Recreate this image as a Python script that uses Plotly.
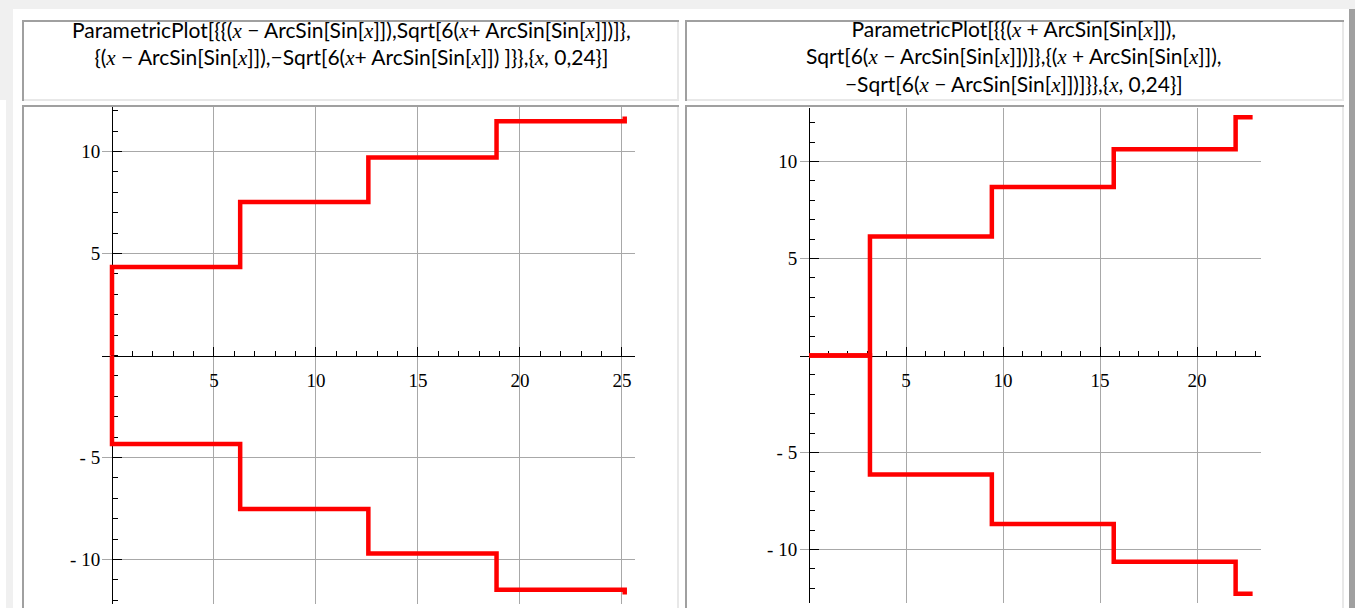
import plotly.graph_objects as go

W, H = 1355, 608

# ---- data: corner points of the two parametric staircase curves ----
# Plot A: {x - ArcSin[Sin[x]], +/- Sqrt[6(x + ArcSin[Sin[x]])]}, x in [0, 24]
a_x = [0.0, 0.0, 6.283, 6.283, 12.566, 12.566, 18.850, 18.850, 25.133, 25.133]
a_y_upper = [0.0, 4.342, 4.342, 7.520, 7.520, 9.708, 9.708, 11.487, 11.487, 11.713]
a_y_lower = [0.0, -4.342, -4.342, -7.520, -7.520, -9.708, -9.708, -11.487, -11.487, -11.713]

# Plot B: {x + ArcSin[Sin[x]], +/- Sqrt[6(x - ArcSin[Sin[x]])]}, x in [0, 24]
b_x = [0.0, 3.142, 3.142, 9.425, 9.425, 15.708, 15.708, 21.991, 21.991, 22.867]
b_y_upper = [0.0, 0.0, 6.140, 6.140, 8.683, 8.683, 10.635, 10.635, 12.280, 12.280]
b_y_lower = [0.0, 0.0, -6.140, -6.140, -8.683, -8.683, -10.635, -10.635, -12.280, -12.280]

# axis ticks
a_xticks = [5, 10, 15, 20, 25]
b_xticks = [5, 10, 15, 20]
yticks = [-10, -5, 5, 10]
ytick_text = ["- 10", "- 5", "5", "10"]

X = '<span style="font-family:Liberation Serif"><i>x</i></span>'
header_a = [
    f"ParametricPlot[{{{{({X} − ArcSin[Sin[{X}]]),Sqrt[6({X}+ ArcSin[Sin[{X}]])]}},",
    f"{{({X} − ArcSin[Sin[{X}]]),−Sqrt[6({X}+ ArcSin[Sin[{X}]]) ]}}}},{{{X}, 0,24}}]",
]
header_b = [
    f"ParametricPlot[{{{{({X} + ArcSin[Sin[{X}]]),",
    f"Sqrt[6({X} − ArcSin[Sin[{X}]])]}},{{({X} + ArcSin[Sin[{X}]]),",
    f"−Sqrt[6({X} − ArcSin[Sin[{X}]])]}}}},{{{X}, 0,24}}]",
]


def px(x):
    return x / W


def py(y):
    return 1 - y / H


fig = go.Figure()

# ---- page background and table cells ----
shapes = []
LIGHT_BG = "#f0f0f0"
DARK = "#a0a0a0"
PALE = "#e8e8e8"


def rect(x0, y0, x1, y1, color):
    shapes.append(dict(type="rect", xref="paper", yref="paper",
                       x0=px(x0), x1=px(x1), y0=py(y1), y1=py(y0),
                       fillcolor=color, line=dict(width=0), layer="below"))


rect(0, 0, W, 9, LIGHT_BG)
rect(0, 0, 13, 100, LIGHT_BG)
rect(6, 100, 13, H, LIGHT_BG)
rect(1349, 9, W, H, DARK)


def cell(x0, y0, x1, y1):
    rect(x0, y0, x1, y0 + 2, DARK)
    rect(x0, y0, x0 + 2, y1, DARK)
    rect(x1 - 2, y0 + 2, x1, y1, PALE)
    rect(x0 + 2, y1 - 2, x1, y1, PALE)


cell(22, 20, 679, 101)
cell(685, 20, 1344, 101)
cell(22, 105, 679, 610)
cell(685, 105, 1344, 610)

fig.update_layout(shapes=shapes)

# ---- headers ----
HEAD_FONT = dict(family="Lato", size=21, color="#000000")
fig.add_annotation(x=px(351), y=py(43), xref="paper", yref="paper",
                   text="<br>".join(header_a), showarrow=False,
                   xanchor="center", yanchor="middle", align="center", font=HEAD_FONT)
fig.add_annotation(x=px(1014), y=py(56.5), xref="paper", yref="paper",
                   text="<br>".join(header_b), showarrow=False,
                   xanchor="center", yanchor="middle", align="center", font=HEAD_FONT)

# ---- plots ----
TICK_FONT = dict(family="Liberation Serif", size=19, color="#000000")
GRID = "#a8a8a8"
RED = "#ff0000"


def setup_axes(idx, origin_px, origin_py, scale_x, scale_y, xr, yr, xticks):
    xname = "xaxis" if idx == 1 else f"xaxis{idx}"
    yname = "yaxis" if idx == 1 else f"yaxis{idx}"
    xa = "x" if idx == 1 else f"x{idx}"
    ya = "y" if idx == 1 else f"y{idx}"
    left = origin_px + xr[0] * scale_x
    right = origin_px + xr[1] * scale_x
    top = origin_py - yr[1] * scale_y
    bottom = origin_py - yr[0] * scale_y
    xdom = [px(left), px(right)]
    ydom = [py(bottom), py(top)]
    common = dict(ticks="inside", ticklen=9, tickwidth=1, tickcolor="#000000",
                  showline=True, linecolor="#000000", linewidth=1,
                  showgrid=True, gridcolor=GRID, gridwidth=1,
                  zeroline=False, tickfont=TICK_FONT, ticklabelstandoff=8,
                  layer="below traces", fixedrange=True,
                  minor=dict(tickmode="linear", tick0=0, dtick=1, ticks="inside",
                             ticklen=5, tickcolor="#000000", showgrid=False))
    fig.update_layout({
        xname: dict(domain=xdom, range=xr, anchor="free",
                    position=py(origin_py),
                    tickmode="array", tickvals=xticks,
                    ticktext=[str(v) for v in xticks], **common),
        yname: dict(domain=ydom, range=yr, anchor="free",
                    position=px(origin_px),
                    tickmode="array", tickvals=yticks, ticktext=ytick_text,
                    **common),
    })
    return xa, ya


xa1, ya1 = setup_axes(1, 112, 355.5, 20.4, 20.4, [-0.503, 25.636], [-12.18, 12.18], a_xticks)
xa2, ya2 = setup_axes(2, 809, 355.5, 19.4, 19.4, [-0.457, 23.324], [-12.77, 12.77], b_xticks)

line = dict(color=RED, width=4.5)
fig.add_trace(go.Scatter(x=a_x, y=a_y_upper, mode="lines", line=line, xaxis=xa1, yaxis=ya1, hoverinfo="skip"))
fig.add_trace(go.Scatter(x=a_x, y=a_y_lower, mode="lines", line=line, xaxis=xa1, yaxis=ya1, hoverinfo="skip"))
fig.add_trace(go.Scatter(x=b_x, y=b_y_upper, mode="lines", line=line, xaxis=xa2, yaxis=ya2, hoverinfo="skip"))
fig.add_trace(go.Scatter(x=b_x, y=b_y_lower, mode="lines", line=line, xaxis=xa2, yaxis=ya2, hoverinfo="skip"))

fig.update_layout(
    width=W, height=H, margin=dict(l=0, r=0, t=0, b=0),
    paper_bgcolor="#ffffff", plot_bgcolor="rgba(0,0,0,0)",
    showlegend=False,
)

fig.write_html("out.html", config={"displayModeBar": False})
